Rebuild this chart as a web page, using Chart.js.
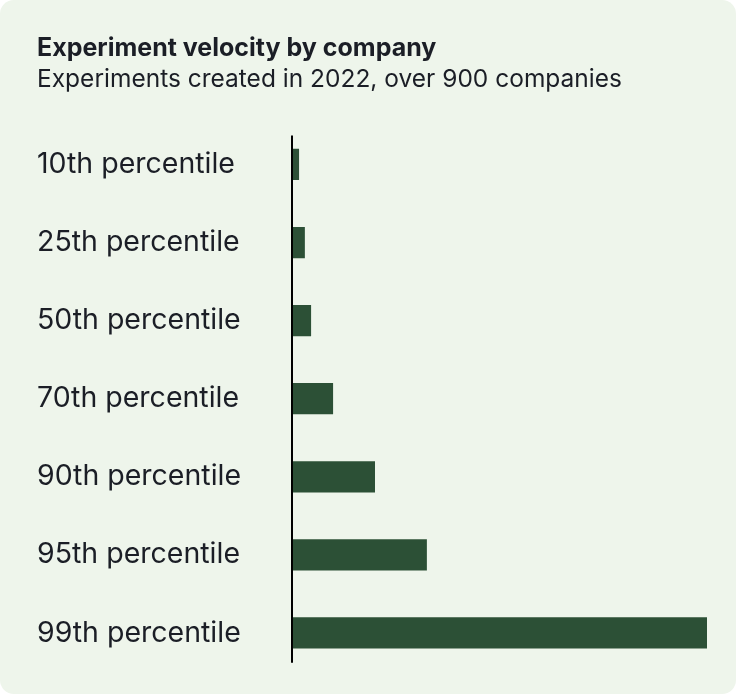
<!DOCTYPE html>
<html>
<head>
<meta charset="utf-8">
<script src="https://cdn.jsdelivr.net/npm/chart.js@4/dist/chart.umd.min.js"></script>
<style>
  html, body { margin: 0; padding: 0; background: #ffffff; }
  .card {
    width: 736px;
    height: 694px;
    background: #eef5eb;
    border-radius: 14px;
    position: relative;
  }
</style>
</head>
<body>
<div class="card">
  <canvas id="velocityChart" width="736" height="694"></canvas>
</div>
<script>
// Percentile groups and relative experiment counts (99th percentile = 100)
const percentiles = ["10th percentile", "25th percentile", "50th percentile", "70th percentile",
                     "90th percentile", "95th percentile", "99th percentile"];
const experiments = [1.7, 3.1, 4.6, 9.9, 20, 32.5, 100];

// Vertical axis line, a little shorter than the full category band
const axisLine = {
  id: 'axisLine',
  afterDatasetsDraw(chart) {
    const y = chart.scales.y;
    const x = chart.scales.x;
    const step = y.getPixelForValue(1) - y.getPixelForValue(0);
    const top = y.getPixelForValue(0) - step * 0.37;
    const bottom = y.getPixelForValue(percentiles.length - 1) + step * 0.38;
    const ctx = chart.ctx;
    ctx.save();
    ctx.strokeStyle = "#000000";
    ctx.lineWidth = 2;
    ctx.beginPath();
    ctx.moveTo(x.left, top);
    ctx.lineTo(x.left, bottom);
    ctx.stroke();
    ctx.restore();
  }
};

new Chart(document.getElementById("velocityChart"), {
  type: 'bar',
  data: {
    labels: percentiles,
    datasets: [{
      label: "Experiments created",
      data: experiments,
      backgroundColor: "#2c5036",
      borderWidth: 0,
      barPercentage: 0.4,
      categoryPercentage: 1.0
    }]
  },
  options: {
    indexAxis: 'y',
    responsive: false,
    animation: false,
    layout: {
      padding: { left: 37, right: 29, top: 0, bottom: 22 }
    },
    scales: {
      x: {
        display: false,
        min: 0,
        max: 100
      },
      y: {
        grid: { display: false, drawTicks: false },
        border: { display: false },
        ticks: {
          crossAlign: 'far',
          color: "#1b1e26",
          padding: 0,
          font: { family: "Inter", size: 28.5 }
        },
        afterFit: function(scale) {
          scale.width = 255; // keeps the axis line where the labels end
        }
      }
    },
    plugins: {
      legend: { display: false },
      tooltip: { enabled: false },
      title: {
        display: true,
        text: "Experiment velocity by company",
        align: 'start',
        color: "#1b1e26",
        font: { family: "Inter", size: 25, weight: 'bold' },
        padding: { top: 33, bottom: 2 }
      },
      subtitle: {
        display: true,
        text: "Experiments created in 2022, over 900 companies",
        align: 'start',
        color: "#1b1e26",
        font: { family: "Inter", size: 24.5 },
        padding: { top: 0, bottom: 31 }
      }
    }
  },
  plugins: [axisLine]
});
</script>
</body>
</html>
